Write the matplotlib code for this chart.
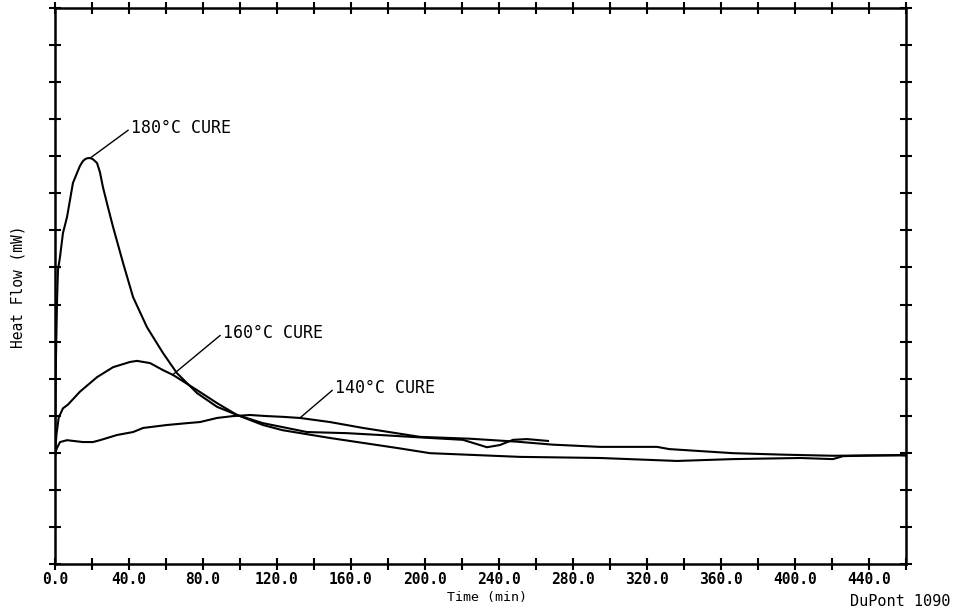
import matplotlib
matplotlib.use("Agg")
import matplotlib.pyplot as plt
from matplotlib.ticker import MultipleLocator, FuncFormatter, NullFormatter

# Isothermal DSC cure traces: time (min) vs heat flow (mW)
t_180 = [0, 0.5, 1.1, 1.6, 2.7, 4.3, 6.5, 8.1, 9.7, 11.9, 13.5, 15.1, 16.5, 17.8,
         19.2, 20.5, 22.7, 24.3, 25.9, 28.6, 31.4, 36.8, 42.2, 49.7, 58.4, 65.9,
         76.8, 87.6, 98.4, 112.4, 123.0, 148.6, 184.9, 202.7, 251.4, 294.6, 336.2,
         366.5, 402.7, 420.5, 426.0, 456.8, 460.0]
hf_180 = [3.0, 5.5, 7.1, 7.93, 8.28, 8.93, 9.36, 9.82, 10.28, 10.55, 10.74, 10.87,
          10.93, 10.95, 10.95, 10.92, 10.82, 10.57, 10.17, 9.63, 9.09, 8.12, 7.2,
          6.39, 5.69, 5.15, 4.61, 4.24, 4.02, 3.75, 3.61, 3.40, 3.13, 2.99, 2.89,
          2.86, 2.78, 2.83, 2.86, 2.83, 2.91, 2.94, 2.93]

t_160 = [0, 0.8, 2.0, 4.3, 7.0, 13.5, 22.7, 31.4, 40.5, 44.3, 51.4, 58.4, 63.8,
         76.8, 87.6, 98.4, 112.4, 136.2, 157.8, 175.7, 202.7, 220.5, 233.5, 240.5,
         247.6, 255.0, 266.5]
hf_160 = [2.9, 3.5, 3.95, 4.2, 4.3, 4.65, 5.04, 5.31, 5.45, 5.48, 5.42, 5.23, 5.10,
          4.69, 4.34, 4.02, 3.80, 3.56, 3.53, 3.48, 3.40, 3.35, 3.15, 3.21, 3.35,
          3.37, 3.32]

t_140 = [0, 0.8, 2.7, 6.5, 15.1, 20.5, 24.3, 33.5, 42.2, 47.6, 60.5, 71.4, 78.4,
         87.6, 96.2, 105.4, 114.6, 123.2, 132.4, 148.6, 166.5, 197.3, 224.3, 249.7,
         269.0, 294.6, 325.4, 332.0, 366.5, 393.5, 420.5, 440.0, 460.0]
hf_140 = [2.9, 3.1, 3.29, 3.34, 3.29, 3.29, 3.34, 3.48, 3.56, 3.67, 3.75, 3.80, 3.83,
          3.94, 3.99, 4.02, 3.99, 3.97, 3.94, 3.83, 3.67, 3.43, 3.38, 3.30, 3.22,
          3.16, 3.16, 3.10, 2.99, 2.95, 2.92, 2.93, 2.93]

# curve labels: (text, leader target on curve, text anchor)
labels = ["180°C CURE", "160°C CURE", "140°C CURE"]
label_targets = [(19.0, 10.95), (63.5, 5.10), (132.4, 3.94)]
label_anchors = [(41.1, 11.76), (90.8, 6.23), (151.4, 4.75)]

x_ticks_major = 40
x_ticks_minor = 20
x_max = 460
y_max = 15

mono = "DejaVu Sans Mono"

fig = plt.figure(figsize=(9.58, 6.14), dpi=100)
ax = fig.add_axes([55 / 958, 1 - 564 / 614, 851 / 958, 556 / 614])

for t, hf in [(t_180, hf_180), (t_160, hf_160), (t_140, hf_140)]:
    ax.plot(t, hf, color="black", lw=1.5, solid_joinstyle="round")

for txt, xy, xyt in zip(labels, label_targets, label_anchors):
    ax.annotate(txt, xy=xy, xytext=xyt, ha="left", va="center",
                family=mono, fontsize=12, color="black",
                arrowprops=dict(arrowstyle="-", color="black", lw=1.0,
                                shrinkA=0, shrinkB=0, relpos=(0, 0.5)))

ax.set_xlim(0, x_max)
ax.set_ylim(0, y_max)

ax.xaxis.set_major_locator(MultipleLocator(x_ticks_major))
ax.xaxis.set_minor_locator(MultipleLocator(x_ticks_minor))
ax.xaxis.set_major_formatter(FuncFormatter(lambda v, p: f"{v:.1f}"))
ax.yaxis.set_major_locator(MultipleLocator(1))
ax.yaxis.set_major_formatter(NullFormatter())

ax.tick_params(axis="both", which="both", direction="inout", length=9, width=1.5,
               top=True, right=True, color="black")
ax.tick_params(axis="x", which="major", pad=1, labelsize=10.5)
for lbl in ax.get_xticklabels():
    lbl.set_family(mono)
    lbl.set_fontweight("bold")

for s in ax.spines.values():
    s.set_linewidth(1.8)
    s.set_color("black")

fig.text(487 / 958, 1 - 597 / 614, "Time (min)", family=mono, fontsize=9.5,
         ha="center", va="center")
fig.text(18 / 958, 1 - 287 / 614, "Heat Flow (mW)", family=mono, fontsize=10.5,
         rotation=90, ha="center", va="center")
fig.text(950 / 958, 1 - 602 / 614, "DuPont 1090", family=mono, fontsize=11,
         ha="right", va="center")

fig.savefig("out.png", dpi=100, facecolor="white")
